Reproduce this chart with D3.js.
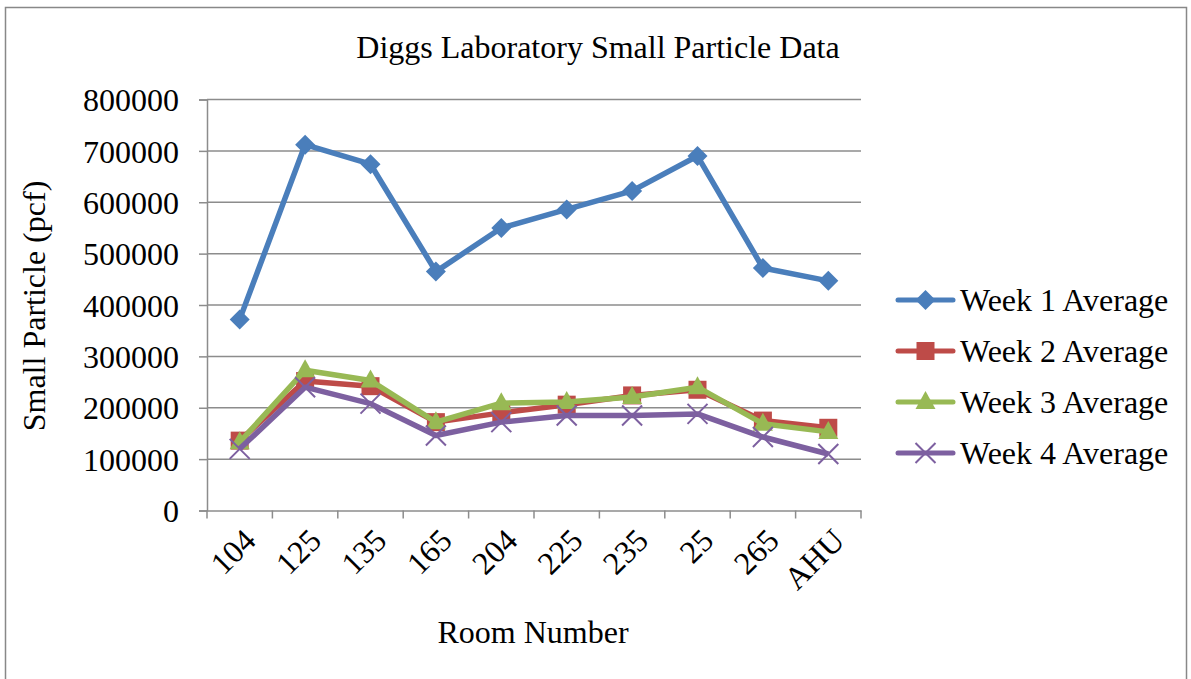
<!DOCTYPE html>
<html>
<head>
<meta charset="utf-8">
<script src="https://cdn.jsdelivr.net/npm/d3@7"></script>
<style>
  body { margin: 0; background: #fff; }
  text { font-family: "Liberation Serif", "Times New Roman", serif; fill: #000; }
</style>
</head>
<body>
<svg width="1191" height="679"></svg>
<script>
// data
var rooms = ['104', '125', '135', '165', '204', '225', '235', '25', '265', 'AHU'];
var week1 = [372000, 712000, 674000, 465000, 550000, 586000, 622000, 690000, 472000, 447000];
var week2 = [136000, 252000, 242000, 172000, 190000, 206000, 224000, 235000, 175000, 161000];
var week3 = [133000, 273000, 253000, 172000, 209000, 211000, 221000, 240000, 169000, 153000];
var week4 = [120000, 240000, 208000, 146000, 172000, 185000, 185000, 188000, 143000, 110000];
var seriesNames = ['Week 1 Average', 'Week 2 Average', 'Week 3 Average', 'Week 4 Average'];
var yTicks = [0, 100000, 200000, 300000, 400000, 500000, 600000, 700000, 800000];

var colors = ['#4a7ebb', '#be4b48', '#98b954', '#7d60a0'];
var shapes = ['diamond', 'square', 'triangle', 'cross'];
var series = [week1, week2, week3, week4];

var svg = d3.select('svg');

// outer border
svg.append('rect')
    .attr('x', 5.5).attr('y', 7.5)
    .attr('width', 1181).attr('height', 700)
    .attr('fill', 'none')
    .attr('stroke', '#888')
    .attr('stroke-width', 1.5);

var plotLeft = 207, plotRight = 861, plotTop = 99.5, plotBottom = 510.5;

var x = d3.scaleBand().domain(rooms).range([plotLeft, plotRight]);
var y = d3.scaleLinear().domain([0, 800000]).range([plotBottom, plotTop]);

// gridlines
svg.append('g')
    .selectAll('line')
    .data(yTicks.slice(1))
    .enter()
    .append('line')
    .attr('x1', plotLeft).attr('x2', plotRight)
    .attr('y1', function (d) { return y(d); })
    .attr('y2', function (d) { return y(d); })
    .attr('stroke', '#8c8c8c')
    .attr('stroke-width', 1.5);

// y axis
var yAxis = svg.append('g')
    .attr('transform', 'translate(' + plotLeft + ',0)')
    .call(d3.axisLeft(y).tickValues(yTicks).tickSize(8).tickPadding(20).tickFormat(d3.format('d')));
yAxis.selectAll('line, path').attr('stroke', '#8c8c8c').attr('stroke-width', 1.5);
yAxis.selectAll('text').style('font-size', '32px').attr('font-family', null).attr('dy', '0.35em');

// x axis
var xAxis = svg.append('g')
    .attr('transform', 'translate(0,' + plotBottom + ')')
    .call(d3.axisBottom(x).tickSize(0).tickSizeOuter(0));
xAxis.select('path').attr('stroke', '#8c8c8c').attr('stroke-width', 1.5);
xAxis.selectAll('.tick text')
    .style('font-size', '32px')
    .attr('font-family', null)
    .attr('text-anchor', 'end')
    .attr('transform', 'translate(10,24) rotate(-45)')
    .attr('dy', '0.35em')
    .attr('y', 0);
// category boundary ticks
svg.append('g')
    .selectAll('line')
    .data(rooms.concat(['end']))
    .enter()
    .append('line')
    .attr('x1', function (d, i) { return plotLeft + i * x.step(); })
    .attr('x2', function (d, i) { return plotLeft + i * x.step(); })
    .attr('y1', plotBottom)
    .attr('y2', plotBottom + 8)
    .attr('stroke', '#8c8c8c')
    .attr('stroke-width', 1.5);

// markers
function drawMarker(g, shape, color) {
    if (shape === 'diamond') {
        g.append('path').attr('d', 'M0,-10L10,0L0,10L-10,0Z').attr('fill', color);
    } else if (shape === 'square') {
        g.append('rect').attr('x', -9).attr('y', -9).attr('width', 18).attr('height', 18).attr('fill', color);
    } else if (shape === 'triangle') {
        g.append('path').attr('d', 'M0,-11L10,7L-10,7Z').attr('fill', color);
    } else {
        g.append('path').attr('d', 'M-10,-10L10,10M-10,10L10,-10').attr('stroke', color).attr('stroke-width', 2);
    }
}

var line = d3.line()
    .x(function (d, i) { return x(rooms[i]) + x.bandwidth() / 2; })
    .y(function (d) { return y(d); });

series.forEach(function (s, k) {
    var g = svg.append('g');
    g.append('path')
        .datum(s)
        .attr('d', line)
        .attr('fill', 'none')
        .attr('stroke', colors[k])
        .attr('stroke-width', 5.5)
        .attr('stroke-linejoin', 'round');
    g.selectAll('g.m')
        .data(s)
        .enter()
        .append('g')
        .attr('class', 'm')
        .attr('transform', function (d, i) {
            return 'translate(' + (x(rooms[i]) + x.bandwidth() / 2) + ',' + y(d) + ')';
        })
        .each(function () { drawMarker(d3.select(this), shapes[k], colors[k]); });
});

// legend
var legend = svg.append('g')
    .selectAll('g')
    .data(seriesNames)
    .enter()
    .append('g')
    .attr('transform', function (d, i) { return 'translate(898,' + (300 + i * 51) + ')'; });
legend.append('line')
    .attr('x1', 0).attr('x2', 55)
    .attr('stroke', function (d, i) { return colors[i]; })
    .attr('stroke-width', 5)
    .attr('stroke-linecap', 'round');
legend.each(function (d, i) {
    var g = d3.select(this).append('g').attr('transform', 'translate(27.5,0)');
    drawMarker(g, shapes[i], colors[i]);
});
legend.append('text')
    .text(function (d) { return d; })
    .attr('x', 62)
    .attr('dy', '0.35em')
    .style('font-size', '32px');

// titles
svg.append('text')
    .text('Diggs Laboratory Small Particle Data')
    .attr('x', 598).attr('y', 58)
    .attr('text-anchor', 'middle')
    .style('font-size', '32px');

svg.append('text')
    .text('Room Number')
    .attr('x', 533).attr('y', 643)
    .attr('text-anchor', 'middle')
    .style('font-size', '32px');

svg.append('text')
    .text('Small Particle (pcf)')
    .attr('transform', 'translate(45,306) rotate(-90)')
    .attr('text-anchor', 'middle')
    .style('font-size', '32px');
</script>
</body>
</html>
